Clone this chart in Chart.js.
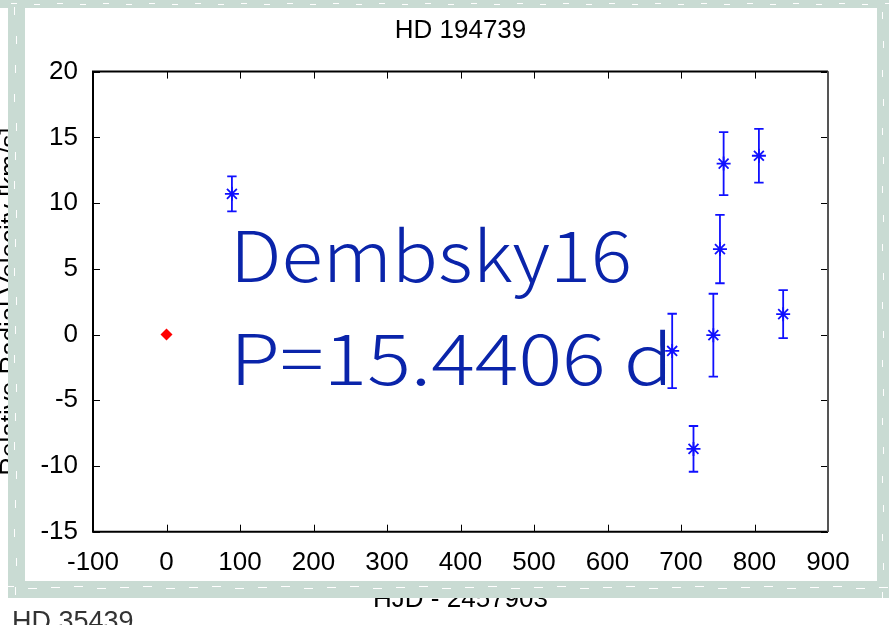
<!DOCTYPE html>
<html><head><meta charset="utf-8">
<script src="https://cdn.jsdelivr.net/npm/chart.js@4.4.1/dist/chart.umd.min.js"></script>
<style>html,body{margin:0;padding:0;background:#fff;}#wrap{width:889px;height:625px;position:relative;overflow:hidden}canvas{display:block}</style>
</head><body><div id="wrap"><canvas id="c" width="889" height="625"></canvas></div>
<script>
// ---- data ----
const chartTitle = 'HD 194739';
const xTitle = 'HJD - 2457903';
const yTitle = 'Relative Radial Velocity [km/s]';
const bottomLabel = 'HD 35439';
const overlayLines = ['Dembsky16', 'P=15.4406 d'];
const xTicks = [-100, 0, 100, 200, 300, 400, 500, 600, 700, 800, 900];
const yTicks = [-15, -10, -5, 0, 5, 10, 15, 20];
const refX = [0];
const refY = [0];
const obsX = [89, 688, 717, 744, 753, 758, 806, 839];
const obsY = [10.7, -1.25, -8.7, -0.05, 6.5, 13.0, 13.6, 1.55];
const obsErr = [1.33, 2.83, 1.74, 3.15, 2.6, 2.4, 2.04, 1.83];

// ---- styles ----
const BLUE = '#1010ff';
const FONT = "'Liberation Sans', Arial, sans-serif";
Chart.defaults.font.family = FONT;
Chart.defaults.color = '#000';

const errSets = obsX.map((x, i) => ({
  type: 'line',
  data: [{x: x, y: obsY[i] - obsErr[i]}, {x: x, y: obsY[i] + obsErr[i]}],
  borderColor: BLUE, backgroundColor: BLUE, borderWidth: 1.8,
  pointStyle: 'line', pointRadius: 4.7, pointBorderWidth: 1.8,
  pointBorderColor: BLUE, showLine: true, order: 2
}));

const centerTitle = {
  id: 'centerTitle',
  afterLayout(chart) {
    const tb = chart.titleBlock, a = chart.chartArea;
    if (tb) { tb.left = a.left; tb.right = a.right; tb.width = a.right - a.left; }
  }
};

const boxPlugin = {
  id: 'box',
  afterDraw(chart) {
    const ctx = chart.ctx, a = chart.chartArea;
    const xs = chart.scales.x, ys = chart.scales.y;
    ctx.save();
    // overlay annotation text
    ctx.fillStyle = '#0a24aa';
    ctx.font = "300 70px 'Noto Sans CJK JP', sans-serif";
    ctx.textBaseline = 'alphabetic';
    const targets = [[230, 281.7, 402], [230, 385, 443]];
    overlayLines.forEach((t, i) => {
      const [tx, ty, tw] = targets[i];
      const w = ctx.measureText(t).width;
      ctx.save();
      ctx.translate(tx, ty);
      ctx.scale(tw / w, 1);
      ctx.fillText(t, 0, 0);
      ctx.restore();
    });
    // inward ticks
    ctx.strokeStyle = '#000';
    ctx.lineWidth = 1;
    const TL = 7;
    xs.ticks.forEach(t => {
      const px = Math.round(xs.getPixelForValue(t.value)) + 0.5;
      ctx.beginPath();
      ctx.moveTo(px, a.bottom); ctx.lineTo(px, a.bottom - TL);
      ctx.moveTo(px, a.top); ctx.lineTo(px, a.top + TL);
      ctx.stroke();
    });
    ys.ticks.forEach(t => {
      const py = Math.round(ys.getPixelForValue(t.value)) + 0.5;
      ctx.beginPath();
      ctx.moveTo(a.left, py); ctx.lineTo(a.left + TL, py);
      ctx.moveTo(a.right, py); ctx.lineTo(a.right - TL, py);
      ctx.stroke();
    });
    // box
    ctx.lineWidth = 2;
    ctx.strokeStyle = '#000';
    ctx.beginPath();
    ctx.moveTo(a.right, a.top); ctx.lineTo(a.left, a.top); ctx.lineTo(a.left, a.bottom); ctx.lineTo(a.right, a.bottom);
    ctx.stroke();
    ctx.strokeStyle = '#555';
    ctx.beginPath();
    ctx.moveTo(a.right, a.top); ctx.lineTo(a.right, a.bottom);
    ctx.stroke();
    // decorative frame
    ctx.fillStyle = '#c9dbd3';
    ctx.fillRect(0, 0, 889, 8);
    ctx.fillRect(8, 0, 17, 598);
    ctx.fillRect(877, 0, 12, 598);
    ctx.fillRect(8, 581, 881, 17);
    // rough edges
    ctx.fillStyle = '#ffffff';
    for (let i = 0; i < 889; i += 23) {
      ctx.fillRect(i + 5, 586 + (i % 3), 9, 1);
      ctx.fillRect(i + 11, 3 + (i % 2), 6, 1);
    }
    for (let j = 0; j < 598; j += 29) {
      ctx.fillRect(14 + (j % 3), j + 7, 1, 8);
      ctx.fillRect(882 + (j % 2), j + 12, 1, 7);
    }
    // bottom label
    ctx.fillStyle = '#333';
    ctx.font = "27px " + FONT;
    ctx.textBaseline = 'alphabetic';
    ctx.textAlign = 'left';
    ctx.fillText(bottomLabel, 12, 630);
    ctx.restore();
  }
};

new Chart(document.getElementById('c'), {
  type: 'scatter',
  data: {
    datasets: [
      {
        data: obsX.map((x, i) => ({x: x, y: obsY[i]})),
        pointStyle: 'star', pointRadius: 7, pointBorderWidth: 1.8,
        borderColor: BLUE, backgroundColor: BLUE, order: 1
      },
      {
        data: refX.map((x, i) => ({x: x, y: refY[i]})),
        pointStyle: 'rectRot', pointRadius: 6, pointBorderWidth: 0,
        borderColor: '#ff0000', backgroundColor: '#ff0000', order: 0
      },
      ...errSets
    ]
  },
  options: {
    responsive: false, animation: false, devicePixelRatio: 1,
    layout: {padding: {left: 0, right: 61, top: 0, bottom: 0}},
    plugins: {
      legend: {display: false}, tooltip: {enabled: false},
      title: {display: true, text: chartTitle, color: '#000',
        font: {size: 26, weight: 'normal', family: FONT},
        padding: {top: 15.4, bottom: 25}}
    },
    scales: {
      x: {
        type: 'linear', min: -100, max: 900,
        afterBuildTicks: s => { s.ticks = xTicks.map(v => ({value: v})); },
        afterFit: s => { s.height = 93.3; },
        ticks: {font: {size: 26}, color: '#000', padding: 16, maxRotation: 0, autoSkip: false},
        grid: {display: false, drawTicks: false}, border: {display: false},
        title: {display: true, text: xTitle, color: '#000', font: {size: 26}, padding: {top: 0, bottom: 9.4}}
      },
      y: {
        type: 'linear', min: -15, max: 20,
        afterBuildTicks: s => { s.ticks = yTicks.map(v => ({value: v})); },
        afterFit: s => { s.width = 93; },
        ticks: {font: {size: 26}, color: '#000', padding: 15},
        grid: {display: false, drawTicks: false}, border: {display: false},
        title: {display: true, text: yTitle, color: '#000', font: {size: 26, lineHeight: 0.85}, padding: 0}
      }
    }
  },
  plugins: [centerTitle, boxPlugin]
});
</script>
</body></html>
